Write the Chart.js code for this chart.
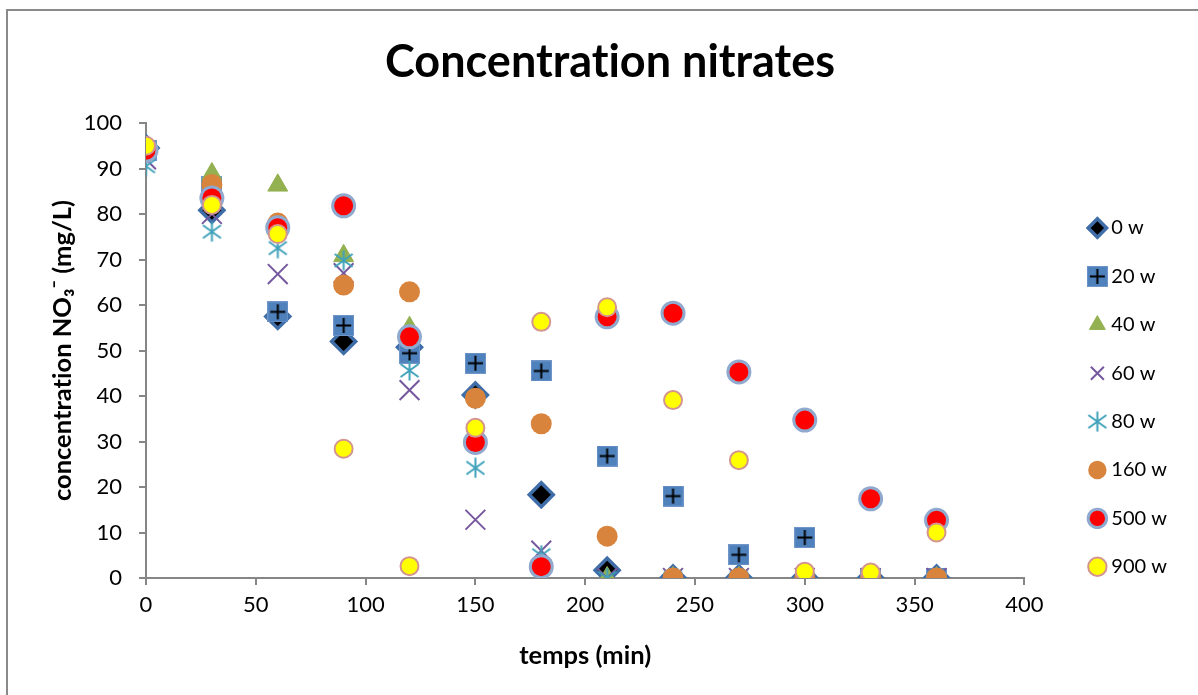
<!DOCTYPE html>
<html>
<head>
<meta charset="utf-8">
<title>Concentration nitrates</title>
<script src="https://cdn.jsdelivr.net/npm/chart.js@4.4.1/dist/chart.umd.min.js"></script>
<style>
  html, body { margin: 0; padding: 0; background: #fff; }
  body { position: relative; width: 1198px; height: 695px; overflow: hidden; }
  #frame { position: absolute; left: 6px; top: 9px; width: 1300px; height: 800px; border: 2px solid #8a8a8a; }
  #wrap { position: absolute; left: 0; top: 0; width: 1198px; height: 695px; }
</style>
</head>
<body>
<div id="frame"></div>
<div id="wrap"><canvas id="nitrates"></canvas></div>
<script>
// sampling times (min)
const times = [0, 30, 60, 90, 120, 150, 180, 210, 240, 270, 300, 330, 360];

// NO3- concentration (mg/L) for each power
const w0   = [94.5, 80.8, 57.5, 52.0, 50.7, 40.2, 18.3, 1.7, 0, 0, 0, 0, 0];
const w20  = [94.0, 86.0, 58.5, 55.5, 49.4, 47.2, 45.5, 26.8, 18.0, 5.1, 8.9, 0, 0];
const w40  = [94.0, 88.8, 86.3, 70.8, 55.0, 30.0, 2.5, 0, 0, 0, 0, 0, 0];
const w60  = [92.0, 80.0, 66.8, 67.0, 41.3, 12.8, 6.0, 0, 0, 0, 0, 0, 0];
const w80  = [90.5, 76.1, 72.5, 69.8, 45.6, 24.2, 5.0, 0, 0, 0, 0, 0, 0];
const w160 = [94.5, 86.5, 78.0, 64.4, 62.9, 39.5, 33.9, 9.2, 0, 0, 0, 0, 0];
const w500 = [94.0, 83.5, 77.0, 81.8, 53.0, 29.8, 2.5, 57.4, 58.2, 45.3, 34.7, 17.4, 12.7];
const w900 = [95.0, 82.0, 75.6, 28.4, 2.6, 33.0, 56.3, 59.5, 39.1, 25.9, 1.4, 1.2, 10.0];

const yTicks = [0, 10, 20, 30, 40, 50, 60, 70, 80, 90, 100];
const xTicks = [0, 50, 100, 150, 200, 250, 300, 350, 400];

// blue square with a black plus
function squarePlus() {
  const c = document.createElement('canvas');
  c.width = 21; c.height = 21;
  const g = c.getContext('2d');
  g.fillStyle = '#4F81BD';
  g.fillRect(0, 0, 21, 21);
  g.strokeStyle = '#7095C8';
  g.lineWidth = 1;
  g.strokeRect(0.5, 0.5, 20, 20);
  g.strokeStyle = '#000';
  g.lineWidth = 2;
  g.beginPath();
  g.moveTo(10.5, 3); g.lineTo(10.5, 18);
  g.moveTo(3, 10.5); g.lineTo(18, 10.5);
  g.stroke();
  return c;
}

// six-armed asterisk (X plus a vertical bar)
function asterisk() {
  const c = document.createElement('canvas');
  c.width = 21; c.height = 21;
  const g = c.getContext('2d');
  g.strokeStyle = '#3FA2BA';
  g.lineWidth = 2;
  g.beginPath();
  g.moveTo(10.5, 0.5); g.lineTo(10.5, 20.5);
  g.moveTo(1.5, 4); g.lineTo(19.5, 17);
  g.moveTo(19.5, 4); g.lineTo(1.5, 17);
  g.stroke();
  return c;
}

const toPoints = vals => times.map((t, i) => ({ x: t, y: vals[i] }));

const datasets = [
  { label: '0 w', data: toPoints(w0), pointStyle: 'rectRot', pointRadius: 12, borderWidth: 3.5,
    backgroundColor: '#000000', borderColor: '#3E6DA8', order: 8 },
  { label: '20 w', data: toPoints(w20), pointStyle: squarePlus(), pointRadius: 10, borderWidth: 0,
    backgroundColor: '#4F81BD', borderColor: '#4F81BD', order: 7 },
  { label: '40 w', data: toPoints(w40), pointStyle: 'triangle', pointRadius: 11.5, borderWidth: 1,
    backgroundColor: '#93B151', borderColor: '#93B151', order: 6 },
  { label: '60 w', data: toPoints(w60), pointStyle: 'crossRot', pointRadius: 14, borderWidth: 2,
    backgroundColor: '#76589E', borderColor: '#76589E', order: 5 },
  { label: '80 w', data: toPoints(w80), pointStyle: asterisk(), pointRadius: 10, borderWidth: 2,
    backgroundColor: '#3FA2BA', borderColor: '#3FA2BA', order: 4 },
  { label: '160 w', data: toPoints(w160), pointStyle: 'circle', pointRadius: 10.5, borderWidth: 0,
    backgroundColor: '#D9843C', borderColor: '#D9843C', order: 3 },
  { label: '500 w', data: toPoints(w500), pointStyle: 'circle', pointRadius: 11, borderWidth: 3,
    backgroundColor: '#FF0000', borderColor: '#8FA9CF', order: 2 },
  { label: '900 w', data: toPoints(w900), pointStyle: 'circle', pointRadius: 9, borderWidth: 2,
    backgroundColor: '#FFFF00', borderColor: '#D4958F', order: 1 }
];
datasets.forEach(d => { d.pointHoverRadius = d.pointRadius; d.showLine = false; });

const axisGrey = '#868686';
const tickFont = { family: 'Lato', size: 22 };
const titleFont = { family: 'Lato', size: 25.5, weight: 'bold' };

// plain glyphs, no "ti" ligature in the titles
const plainText = {
  id: 'plainText',
  beforeDraw(chart) { chart.ctx.textRendering = 'optimizeSpeed'; }
};

new Chart(document.getElementById('nitrates'), {
  type: 'scatter',
  data: { datasets },
  plugins: [plainText],
  options: {
    responsive: true,
    maintainAspectRatio: false,
    animation: false,
    layout: { padding: { top: 0, left: 43, right: 21, bottom: 20 } },
    plugins: {
      title: {
        display: true,
        text: 'Concentration nitrates',
        color: '#000',
        font: { family: 'Lato', size: 45, weight: 'bold' },
        padding: { top: 35, bottom: 34 }
      },
      legend: {
        position: 'right',
        // empty title only pushes the entries down
        title: { display: true, text: '', padding: { top: 105.4, bottom: 0 } },
        labels: {
          usePointStyle: true,
          boxWidth: 8,
          boxHeight: 13,
          padding: 28.4,
          color: '#000',
          font: { family: 'Lato', size: 20 },
          sort: (a, b) => a.datasetIndex - b.datasetIndex
        }
      },
      tooltip: { enabled: false }
    },
    scales: {
      x: {
        type: 'linear',
        min: 0,
        max: 400,
        afterBuildTicks: s => { s.ticks = xTicks.map(v => ({ value: v })); },
        afterFit: s => { s.height = 97; },
        ticks: { color: '#000', font: tickFont, padding: 7, maxRotation: 0 },
        grid: { drawOnChartArea: false, tickLength: 7, color: axisGrey, lineWidth: 2 },
        border: { color: axisGrey, width: 2 },
        title: { display: true, text: 'temps (min)', color: '#000', font: titleFont }
      },
      y: {
        min: 0,
        max: 100,
        afterBuildTicks: s => { s.ticks = yTicks.map(v => ({ value: v })); },
        afterFit: s => { s.width = 103; },
        ticks: { color: '#000', font: tickFont, padding: 17 },
        grid: { drawOnChartArea: false, tickLength: 7, color: axisGrey, lineWidth: 2 },
        border: { color: axisGrey, width: 2 },
        title: { display: true, text: 'concentration NO₃⁻ (mg/L)', color: '#000', font: titleFont }
      },
      // empty right-hand box that keeps the legend clear of the plot
      gap: {
        position: 'right',
        display: true,
        grid: { display: false },
        border: { display: false },
        ticks: { display: false },
        afterFit: s => { s.width = 40.6; }
      }
    }
  }
});
</script>
</body>
</html>
